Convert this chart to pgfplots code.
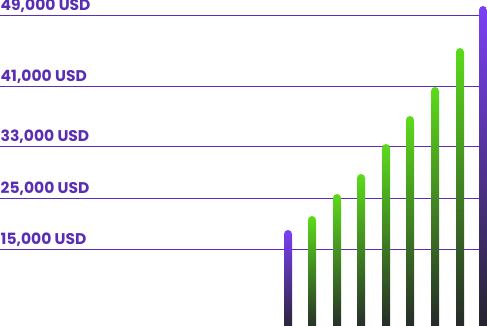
\documentclass[border=0pt]{standalone}
\usepackage{fontspec}
\setmainfont{Poppins}
\usepackage{pgfplots}
\pgfplotsset{compat=1.18}

\definecolor{gridpurple}{HTML}{5A2EB8}
\definecolor{labelpurple}{HTML}{5A2EB3}
\definecolor{barpurple}{HTML}{7B40F5}
\definecolor{bargreen}{HTML}{5CDB1B}
\definecolor{bardark}{HTML}{232329}

\begin{document}
\begin{tikzpicture}
\begin{axis}[
  scale only axis,
  width=487pt, height=336pt,
  xmin=0, xmax=487,
  ymin=0, ymax=336,
  axis line style={draw=none},
  major tick length=0pt,
  xtick=\empty,
  ytick={86.5,137.5,189.5,249.5,320.5},
  yticklabels={{15,000 USD},{25,000 USD},{33,000 USD},{41,000 USD},{49,000 USD}},
  yticklabel style={anchor=base west, inner sep=0pt, xshift=0.5pt, yshift=4.5pt,
    font=\fontsize{15.5}{16}\selectfont\bfseries, text=labelpurple},
  ymajorgrids,
  grid style={gridpurple, line width=1.1pt},
  ybar, bar width=8pt, bar shift=0pt,
]
% first and last bars in purple, the rest in green; the bottom 10 units are trimmed off
\addplot[draw=none, rounded corners=4pt, top color=barpurple, bottom color=bardark]
  coordinates {(288,106)};
\addplot[draw=none, rounded corners=4pt, top color=bargreen, bottom color=bardark]
  coordinates {(312,120)};
\addplot[draw=none, rounded corners=4pt, top color=bargreen, bottom color=bardark]
  coordinates {(337,142)};
\addplot[draw=none, rounded corners=4pt, top color=bargreen, bottom color=bardark]
  coordinates {(361,162)};
\addplot[draw=none, rounded corners=4pt, top color=bargreen, bottom color=bardark]
  coordinates {(386,192)};
\addplot[draw=none, rounded corners=4pt, top color=bargreen, bottom color=bardark]
  coordinates {(410,220)};
\addplot[draw=none, rounded corners=4pt, top color=bargreen, bottom color=bardark]
  coordinates {(435,249)};
\addplot[draw=none, rounded corners=4pt, top color=bargreen, bottom color=bardark]
  coordinates {(460,288)};
\addplot[draw=none, rounded corners=4pt, top color=barpurple, bottom color=bardark]
  coordinates {(483,330)};
\end{axis}
\pgfresetboundingbox
\path[use as bounding box] ([yshift=10pt]current axis.south west) rectangle (current axis.north east);
\end{tikzpicture}
\end{document}
